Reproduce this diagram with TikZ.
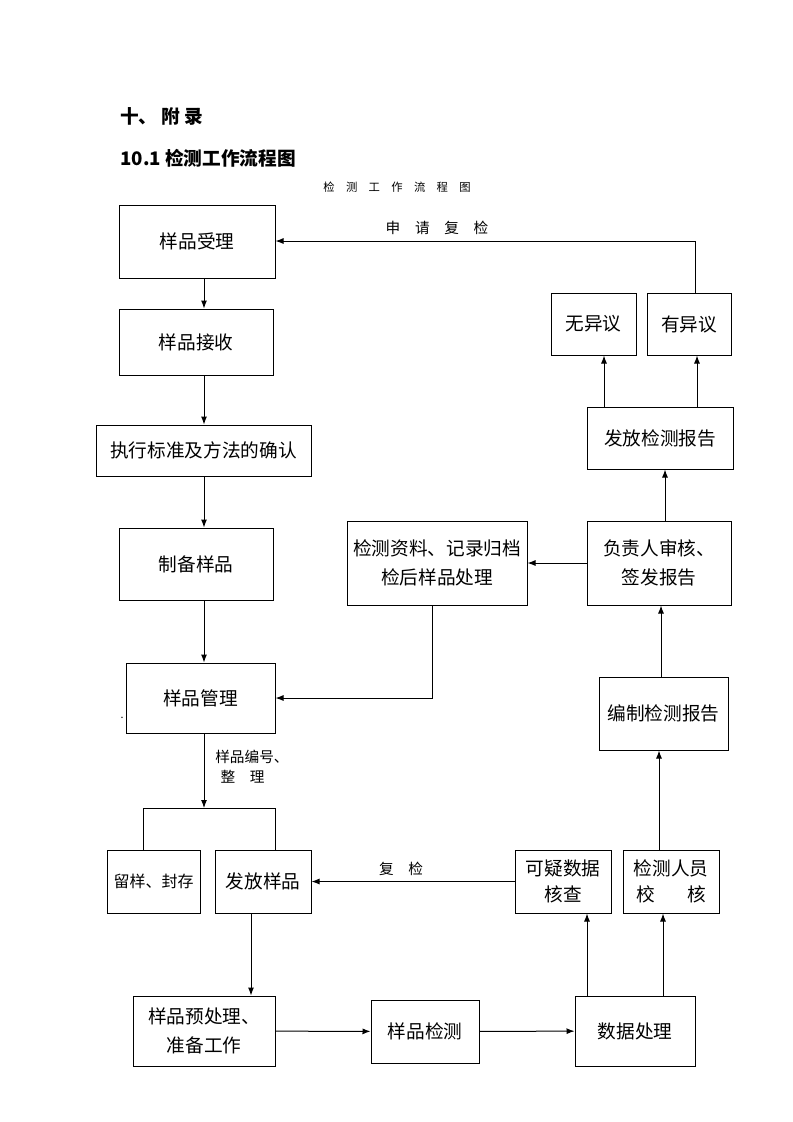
\documentclass[tikz,border=0pt]{standalone}
\usepackage{fontspec}
\setmainfont{Noto Sans CJK SC}
\usetikzlibrary{arrows.meta}
\tikzset{
  box/.style 2 args={draw, line width=0.75pt, inner sep=0pt,
    minimum width=#1*0.75pt, minimum height=#2*0.75pt, align=center,
    font=\fontsize{14pt}{22pt}\selectfont},
  lab/.style={inner sep=0pt, font=\fontsize{11pt}{15pt}\selectfont},
  link/.style={line width=0.75pt},
  >={Latex[length=6pt,width=4.5pt]}
}
\begin{document}
\begin{tikzpicture}[x=0.75pt, y=-0.75pt]
  \useasboundingbox (0,0) rectangle (793,1122);
  \node[anchor=west, inner sep=0pt, font=\fontsize{14pt}{16pt}\selectfont\bfseries] (sec) at (120,116) {十、 附 录};
  \node[anchor=west, inner sep=0pt, font=\fontsize{14pt}{16pt}\selectfont\bfseries] (sub) at (120,158) {10.1 检测工作流程图};
  \node[inner sep=0pt, font=\fontsize{8.5pt}{10pt}\selectfont] (title) at (397,187) {检\quad 测\quad 工\quad 作\quad 流\quad 程\quad 图};

  \node[box={156}{73}] (A) at (197,241.5) {样品受理};
  \node[box={154}{66}] (B) at (196,342) {样品接收};
  \node[box={215}{51}] (C) at (203.5,450.5) {执行标准及方法的确认};
  \node[box={154}{72}] (D) at (196,564) {制备样品};
  \node[box={149}{70}] (E) at (200.5,698) {样品管理};
  \node[box={93}{63}, font=\fontsize{12pt}{16pt}\selectfont] (F) at (153.5,881.5) {留样、封存};
  \node[box={96}{63}] (G) at (263,881.5) {发放样品};
  \node[box={142}{70}] (H) at (204,1031) {样品预处理、\\准备工作};
  \node[box={108}{63}] (I) at (425,1031.5) {样品检测};
  \node[box={120}{70}] (J) at (635,1031) {数据处理};
  \node[box={96}{63}, font=\fontsize{14pt}{20pt}\selectfont] (K) at (563,881.5) {可疑数据\\核查};
  \node[box={96}{63}, font=\fontsize{14pt}{20pt}\selectfont] (L) at (671,881.5) {检测人员\\校\hspace{24pt}核};
  \node[box={129}{73}] (M) at (663.5,713.5) {编制检测报告};
  \node[box={144}{84}] (N) at (659,563) {负责人审核、\\签发报告};
  \node[box={180}{84}] (O) at (437,563) {检测资料、记录归档\\检后样品处理};
  \node[box={146}{62}] (P) at (660,438) {发放检测报告};
  \node[box={85}{62}] (Q) at (593.5,324) {无异议};
  \node[box={84}{62}] (R) at (689,324) {有异议};
  \node[inner sep=0pt, font=\fontsize{8pt}{8pt}\selectfont] (dot) at (122,718) {.};

  \coordinate (x1) at (204,0);
  \coordinate (x2) at (251,0);
  \coordinate (bl) at (143,808);
  \coordinate (br) at (275,808);
  \coordinate (bm) at (204,808);
  \coordinate (t1) at (695,241);
  \coordinate (t2) at (432,698);

  \draw[link,->] (A.south -| x1) -- (B.north -| x1);
  \draw[link,->] (B.south -| x1) -- (C.north -| x1);
  \draw[link,->] (C.south -| x1) -- (D.north -| x1);
  \draw[link,->] (D.south -| x1) -- (E.north -| x1);
  \draw[link,->] (E.south -| x1) -- (bm);
  \draw[link] (bl) -- (br);
  \draw[link] (bl) -- (bl |- F.north);
  \draw[link] (br) -- (br |- G.north);
  \draw[link,->] (G.south -| x2) -- (H.north -| x2);
  \draw[link,->] (H) -- (I);
  \draw[link,->] (I) -- (J);
  \draw[link,->] (J.north -| 587,0) -- (K.south -| 587,0);
  \draw[link,->] (J.north -| 663,0) -- (L.south -| 663,0);
  \draw[link,->] (L.north -| 659,0) -- (M.south -| 659,0);
  \draw[link,->] (M.north -| 661,0) -- (N.south -| 661,0);
  \draw[link,->] (N) -- (O);
  \draw[link,->] (N.north -| 665,0) -- (P.south -| 665,0);
  \draw[link,->] (P.north -| 604,0) -- (Q.south -| 604,0);
  \draw[link,->] (P.north -| 697,0) -- (R.south -| 697,0);
  \draw[link,->] (R.north -| t1) -- (t1) -- (A.east |- t1);
  \draw[link,->] (O.south -| t2) -- (t2) -- (E.east |- t2);
  \draw[link,->] (K) -- (G);

  \node[lab] (l1) at (437,228) {申\quad 请\quad 复\quad 检};
  \node[lab] (l2) at (401,869) {复\quad 检};
  \node[lab, anchor=west, align=left] (l3) at (215,767) {样品编号、\\\hspace{4pt}整\quad 理};
\end{tikzpicture}
\end{document}
